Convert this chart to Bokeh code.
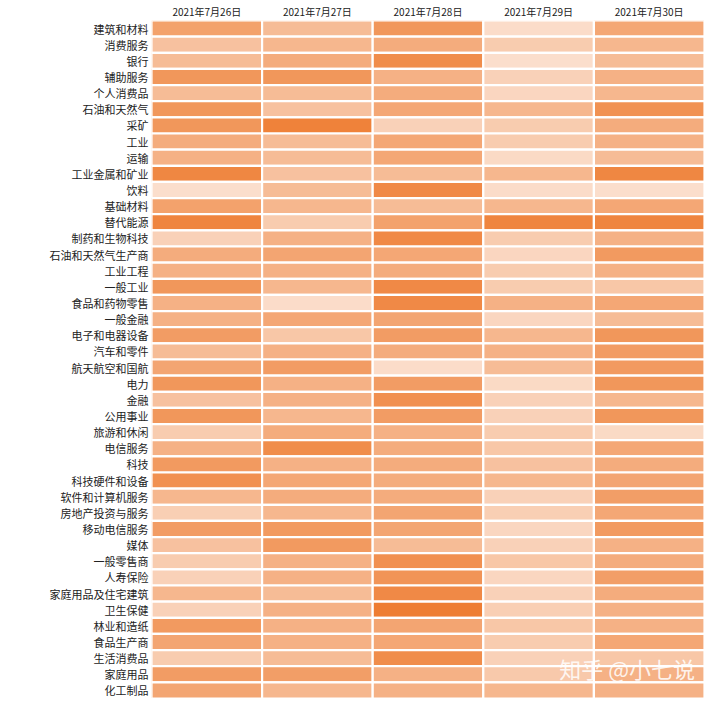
from bokeh.plotting import figure
from bokeh.models import FactorRange, LinearColorMapper, ColumnDataSource
from bokeh.embed import file_html
from bokeh.resources import INLINE
from bokeh.core.properties import value

dates = ["2021年7月26日", "2021年7月27日", "2021年7月28日", "2021年7月29日", "2021年7月30日"]

sectors = ["建筑和材料", "消费服务", "银行", "辅助服务", "个人消费品", "石油和天然气", "采矿", "工业",
           "运输", "工业金属和矿业", "饮料", "基础材料", "替代能源", "制药和生物科技", "石油和天然气生产商",
           "工业工程", "一般工业", "食品和药物零售", "一般金融", "电子和电器设备", "汽车和零件", "航天航空和国航",
           "电力", "金融", "公用事业", "旅游和休闲", "电信服务", "科技", "科技硬件和设备", "软件和计算机服务",
           "房地产投资与服务", "移动电信服务", "媒体", "一般零售商", "人寿保险", "家庭用品及住宅建筑", "卫生保健",
           "林业和造纸", "食品生产商", "生活消费品", "家庭用品", "化工制品"]

# relative intensity per date column (0 = lightest, 1 = darkest)
d0726 = [0.65, 0.35, 0.40, 0.75, 0.40, 0.75, 0.75, 0.55, 0.50, 0.90, 0.08, 0.65, 0.92, 0.20, 0.55,
         0.50, 0.75, 0.50, 0.50, 0.70, 0.40, 0.62, 0.75, 0.35, 0.75, 0.25, 0.50, 0.72, 0.82, 0.45,
         0.22, 0.70, 0.35, 0.25, 0.20, 0.45, 0.20, 0.72, 0.62, 0.25, 0.70, 0.62]
d0727 = [0.40, 0.45, 0.55, 0.75, 0.40, 0.35, 0.95, 0.40, 0.40, 0.35, 0.40, 0.45, 0.25, 0.50, 0.62,
         0.50, 0.45, 0.10, 0.60, 0.30, 0.50, 0.70, 0.50, 0.50, 0.45, 0.55, 0.85, 0.50, 0.60, 0.55,
         0.45, 0.72, 0.72, 0.50, 0.50, 0.40, 0.50, 0.50, 0.50, 0.40, 0.68, 0.45]
d0728 = [0.75, 0.55, 0.85, 0.50, 0.55, 0.60, 0.20, 0.60, 0.60, 0.40, 0.88, 0.40, 0.65, 0.88, 0.60,
         0.55, 0.88, 0.88, 0.62, 0.70, 0.55, 0.10, 0.70, 0.82, 0.70, 0.50, 0.55, 0.55, 0.55, 0.55,
         0.62, 0.62, 0.40, 0.82, 0.78, 0.88, 1.00, 0.62, 0.60, 0.85, 0.50, 0.50]
d0729 = [0.10, 0.25, 0.08, 0.20, 0.15, 0.45, 0.25, 0.25, 0.12, 0.45, 0.10, 0.45, 0.92, 0.25, 0.15,
         0.25, 0.25, 0.50, 0.15, 0.45, 0.50, 0.40, 0.12, 0.20, 0.20, 0.25, 0.30, 0.35, 0.45, 0.20,
         0.22, 0.15, 0.20, 0.30, 0.15, 0.20, 0.22, 0.30, 0.25, 0.20, 0.28, 0.45]
d0730 = [0.60, 0.45, 0.40, 0.50, 0.45, 0.80, 0.55, 0.50, 0.40, 0.90, 0.08, 0.60, 0.92, 0.50, 0.72,
         0.50, 0.30, 0.60, 0.40, 0.75, 0.70, 0.72, 0.75, 0.45, 0.75, 0.12, 0.60, 0.55, 0.62, 0.68,
         0.60, 0.72, 0.50, 0.55, 0.68, 0.55, 0.50, 0.50, 0.60, 0.30, 0.50, 0.50]

columns = [d0726, d0727, d0728, d0729, d0730]

xs, ys, vs = [], [], []
for d, col in zip(dates, columns):
    for s, v in zip(sectors, col):
        xs.append(d)
        ys.append(s)
        vs.append(v)
src = ColumnDataSource(dict(x=xs, y=ys, v=vs))


def lerp_hex(c1, c2, t):
    a = [int(c1[i:i + 2], 16) for i in (1, 3, 5)]
    b = [int(c2[i:i + 2], 16) for i in (1, 3, 5)]
    return "#" + "".join("%02x" % round(a[k] + (b[k] - a[k]) * t) for k in range(3))


palette = [lerp_hex("#FCE6D9", "#EE7D32", i / 255) for i in range(256)]
mapper = LinearColorMapper(palette=palette, low=0, high=1)

p = figure(width=704, height=698, output_backend="svg", toolbar_location=None,
           x_range=FactorRange(factors=dates), y_range=FactorRange(factors=list(reversed(sectors))),
           x_axis_location="above", tools="",
           min_border_left=151, min_border_right=0, min_border_top=0, min_border_bottom=0)

p.rect(x="x", y="y", width=1, height=1, source=src,
       fill_color={"field": "v", "transform": mapper}, line_color="#FFFFFF", line_width=2.2)

p.text(x=["2021年7月30日"], y=["生活消费品"], text=["知乎 @小七说"], x_offset=-22, y_offset=10,
       text_align="center", text_baseline="middle", text_color="#FFFFFF", text_alpha=0.85,
       text_font=value("Noto Sans CJK SC"), text_font_size="22px")

p.outline_line_color = None
p.grid.grid_line_color = None
for ax in (p.xaxis[0], p.yaxis[0]):
    ax.axis_line_color = None
    ax.major_tick_line_color = None
    ax.minor_tick_line_color = None
    ax.major_tick_out = 0
    ax.major_tick_in = 0
    ax.major_label_text_font = "Noto Sans CJK SC"
    ax.major_label_text_color = "#222222"
p.xaxis.major_label_text_font_size = "10px"
p.xaxis.major_label_standoff = 2
p.yaxis.major_label_text_font_size = "11px"
p.yaxis.major_label_standoff = 3
p.background_fill_color = "#FFFFFF"

open("out.html", "w").write(file_html(p, INLINE))
